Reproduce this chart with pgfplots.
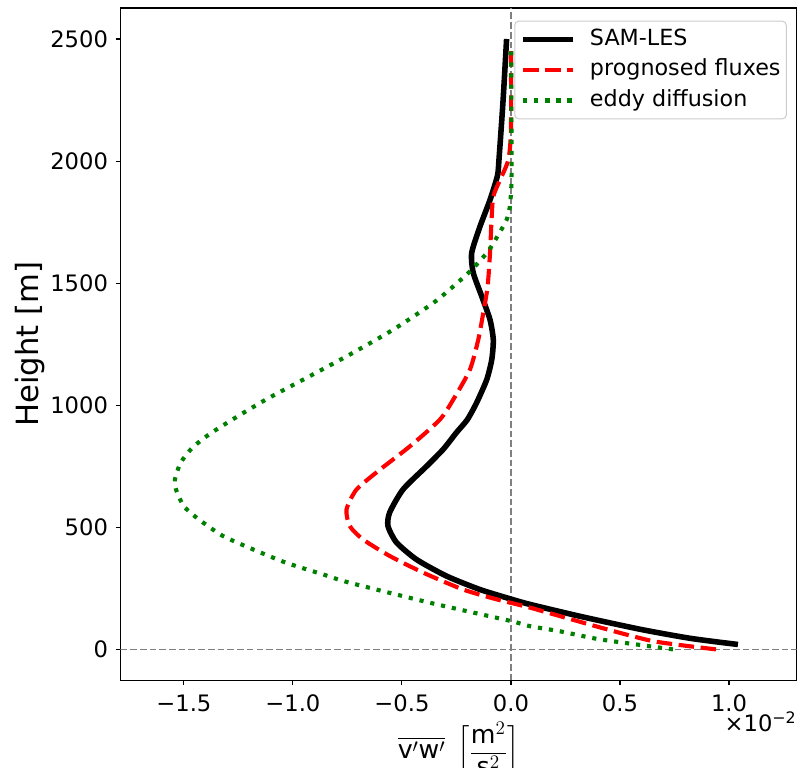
\documentclass[border=0pt]{standalone}
\usepackage{fontspec}
\setmainfont{DejaVu Sans}
\usepackage{amsmath}
\usepackage{pgfplots}
\pgfplotsset{compat=1.18}

\newcommand\tickfont{\fontsize{17}{20}\selectfont}
\newcommand\legfont{\fontsize{16.7}{20}\selectfont}
\newcommand\labelfont{\fontsize{23}{27}\selectfont}
\newcommand\xlabelfont{\fontsize{19}{23}\selectfont}

\begin{document}
\begin{tikzpicture}
\begin{axis}[
    scale only axis,
    width=507.75pt, height=504.75pt,
    xmin=-1.791, xmax=1.3106,
    ymin=-126.8, ymax=2627,
    axis line style={black, line width=0.83pt},
    tick align=outside,
    xtick pos=left, ytick pos=left,
    major tick length=3.65pt,
    tick style={black, line width=0.83pt},
    xtick={-1.5,-1,-0.5,0,0.5,1},
    xticklabels={−1.5,−1.0,−0.5,0.0,0.5,1.0},
    ytick={0,500,1000,1500,2000,2500},
    yticklabels={0,500,1000,1500,2000,2500},
    tick label style={font=\tickfont, inner sep=0pt},
    xticklabel shift=7pt,
    yticklabel shift=5.5pt,
    ylabel={Height [m]},
    ylabel style={font=\labelfont, inner sep=0pt, at={(rel axis cs:-0.1108,0.5)}, anchor=south},
    xlabel={$\displaystyle\overline{\text{v}'\text{w}'}\ \left[\frac{\text{m}^2}{\text{s}^2}\right]$},
    xlabel style={font=\xlabelfont, inner sep=0pt, at={(rel axis cs:0.5,0)}, anchor=north, yshift=-31.5pt},
    legend cell align=left,
    legend image code/.code={\draw[#1] (0pt,0pt) -- (37.5pt,0pt);},
    legend style={at={(rel axis cs:1,1)}, anchor=north east, xshift=-7.5pt, yshift=-9.5pt,
        draw=black!20, line width=0.75pt, rounded corners=3pt, fill=white,
        font=\legfont, inner xsep=4.3pt, inner ysep=6pt,
        column sep=10.5pt, row sep=7.3pt,
        nodes={inner sep=0pt, text height=12.2pt, text depth=3.4pt}},
]
% zero lines
\addplot[forget plot, gray, line width=1.1pt, dash pattern=on 5pt off 2.3pt]
    coordinates {(0,-126.8) (0,2627)};
\addplot[forget plot, gray, line width=1.1pt, dash pattern=on 5pt off 2.3pt]
    coordinates {(-1.791,0) (1.3106,0)};

% SAM-LES
\addplot[black, line width=4.17pt, line join=round, smooth, tension=0.4] coordinates {
    (1.041,20) (0.824,45) (0.594,82) (0.319,135) (0.088,184) (0.004,205)
    (-0.142,245) (-0.295,300) (-0.433,368) (-0.525,438) (-0.564,505)
    (-0.556,561) (-0.495,655) (-0.387,750) (-0.31,820) (-0.25,888)
    (-0.20,941) (-0.157,1011) (-0.111,1105) (-0.088,1187) (-0.081,1268)
    (-0.096,1350) (-0.134,1446) (-0.173,1543) (-0.180,1624) (-0.142,1732)
    (-0.096,1841) (-0.062,1940) (-0.055,2005) (-0.036,2250) (-0.02,2500)
};
% prognosed fluxes
\addplot[red, line width=3.1pt, dash pattern=on 11.6pt off 5pt, smooth, tension=0.4] coordinates {
    (0.94,0) (0.656,33) (0.408,90) (0.087,171) (-0.066,205) (-0.219,245)
    (-0.402,314) (-0.555,382) (-0.678,450) (-0.739,505) (-0.754,573)
    (-0.708,655) (-0.601,736) (-0.463,832) (-0.326,941) (-0.26,1030)
    (-0.188,1146) (-0.15,1268) (-0.127,1378) (-0.107,1486) (-0.096,1624)
    (-0.089,1759) (-0.081,1855) (-0.05,1923) (-0.012,2005) (0,2128) (0,2475)
};
% eddy diffusion
\addplot[green!50!black, line width=3.1pt, dash pattern=on 3.1pt off 5.2pt, smooth, tension=0.4] coordinates {
    (0.743,0) (0.408,41) (0.225,74) (0.087,95) (0,116) (-0.372,191)
    (-0.74,273) (-0.862,307) (-1.032,355) (-1.2,416) (-1.324,466)
    (-1.431,532) (-1.5,586) (-1.535,652) (-1.541,696) (-1.515,764)
    (-1.462,825) (-1.385,880) (-1.278,941) (-1.124,1023) (-0.925,1118)
    (-0.74,1207) (-0.541,1309) (-0.356,1419) (-0.26,1490) (-0.18,1555)
    (-0.105,1630) (-0.06,1695) (-0.02,1759) (-0.005,1814) (0.002,1900)
    (0.003,2000) (0.002,2200) (0.001,2475)
};
\legend{SAM-LES, prognosed fluxes, eddy diffusion}
\end{axis}
\node[anchor=north east, inner sep=0pt, font=\tickfont] at ([yshift=-23.25pt]current axis.south east) {×10\textsuperscript{−2}};
\pgfresetboundingbox
\path[use as bounding box] ([shift={(-90.4pt,-65.25pt)}]current axis.south west)
    rectangle ([shift={(3.2pt,6pt)}]current axis.north east);
\end{tikzpicture}
\end{document}
